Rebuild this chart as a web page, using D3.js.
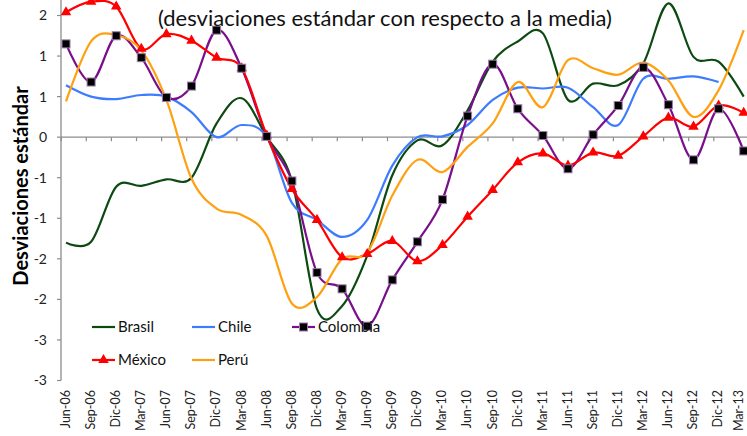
<!DOCTYPE html>
<html><head><meta charset="utf-8">
<script src="https://cdn.jsdelivr.net/npm/d3@7/dist/d3.min.js"></script>
<style>html,body{margin:0;padding:0;background:#fff;}svg{display:block;}</style>
</head><body>
<svg id="chart" width="747" height="436"></svg>
<script>
const categories = ["Jun-06","Sep-06","Dic-06","Mar-07","Jun-07","Sep-07","Dic-07","Mar-08","Jun-08","Sep-08","Dic-08","Mar-09","Jun-09","Sep-09","Dic-09","Mar-10","Jun-10","Sep-10","Dic-10","Mar-11","Jun-11","Sep-11","Dic-11","Mar-12","Jun-12","Sep-12","Dic-12","Mar-13"];
const brasil   = [-1.30,-1.29,-0.61,-0.60,-0.52,-0.50,0.17,0.48,0.00,-0.54,-2.12,-2.08,-1.46,-0.47,-0.04,-0.10,0.33,0.93,1.18,1.28,0.46,0.66,0.64,0.91,1.65,0.99,0.93,0.50];
const chile    = [0.64,0.50,0.47,0.52,0.50,0.31,0.00,0.15,0.00,-0.81,-1.02,-1.23,-1.02,-0.35,0.00,0.01,0.15,0.46,0.61,0.60,0.61,0.37,0.15,0.72,0.72,0.75,0.68,null];
const colombia = [1.15,0.68,1.25,0.98,0.49,0.63,1.32,0.85,0.01,-0.54,-1.67,-1.87,-2.33,-1.76,-1.29,-0.77,0.26,0.90,0.35,0.02,-0.39,0.03,0.39,0.86,0.40,-0.28,0.35,-0.17];
const mexico   = [1.54,1.67,1.61,1.09,1.27,1.19,0.98,0.85,0.02,-0.64,-1.02,-1.48,-1.44,-1.28,-1.53,-1.33,-0.98,-0.65,-0.31,-0.20,-0.35,-0.19,-0.23,0.01,0.24,0.13,0.39,0.30];
const peru     = [0.44,1.18,1.26,1.07,0.46,-0.51,-0.88,-0.96,-1.22,-2.05,-1.97,-1.50,-1.42,-0.72,-0.28,-0.43,-0.12,0.17,0.68,0.37,0.95,0.85,0.77,0.92,0.70,0.25,0.58,1.32];
const yTickValues = [1.5,1,0.5,0,-0.5,-1,-1.5,-2,-2.5,-3];
const yTickLabels = ["2","1","1","0","-1","-1","-2","-2","-3","-3"];
const seriesNames = ["Brasil","Chile","Colombia","México","Perú"];
const title = "(desviaciones estándar con respecto a la media)";
const yTitle = "Desviaciones estándar";

const colors = {Brasil:"#0d4a12", Chile:"#3d7bff", Colombia:"#7a0f8c", "México":"#ff0000", "Perú":"#ffa010"};
const seriesData = {Brasil:brasil, Chile:chile, Colombia:colombia, "México":mexico, "Perú":peru};

const svg = d3.select("#chart");
const FONT = "Lato, 'Open Sans', sans-serif";
const x = d3.scalePoint().domain(categories).range([66, 743.7]);
const y = d3.scaleLinear().domain([-3, 1.5]).range([380.5, 15.5]);
const axisX = 61;
const axisColor = "#8c8c8c";

// Y axis line
svg.append("line").attr("x1", axisX).attr("x2", axisX).attr("y1", 0).attr("y2", y(-3))
  .attr("stroke", axisColor).attr("stroke-width", 1.3);
// Y ticks
const yt = svg.append("g");
yTickValues.forEach((v, i) => {
  yt.append("line").attr("x1", axisX - 4).attr("x2", axisX).attr("y1", y(v)).attr("y2", y(v))
    .attr("stroke", axisColor).attr("stroke-width", 1.2);
  yt.append("text").attr("x", 47).attr("y", y(v)).attr("dy", "0.35em").attr("text-anchor", "end")
    .attr("font-family", FONT).attr("font-size", 14).attr("fill", "#222").text(yTickLabels[i]);
});

// X axis line at zero
svg.append("line").attr("x1", axisX).attr("x2", 747).attr("y1", y(0)).attr("y2", y(0))
  .attr("stroke", axisColor).attr("stroke-width", 1.3);
const xt = svg.append("g");
categories.forEach(c => {
  const tx = x(c) - 4.8;
  xt.append("line").attr("x1", tx).attr("x2", tx).attr("y1", y(0)).attr("y2", y(0) + 4)
    .attr("stroke", axisColor).attr("stroke-width", 1.2);
  xt.append("text").attr("transform", `translate(${Math.min(x(c) - 0.5, 739)},390) rotate(-90)`)
    .attr("text-anchor", "end").attr("dy", "0.35em")
    .attr("font-family", FONT).attr("font-size", 12.5).attr("fill", "#222").text(c);
});

// Lines
const line = d3.line().x(d => x(d.c)).y(d => y(d.v)).curve(d3.curveCardinal.tension(0));
seriesNames.forEach(name => {
  const pts = categories.map((c, i) => ({c, v: seriesData[name][i]})).filter(d => d.v !== null);
  svg.append("path").datum(pts).attr("d", line)
    .attr("fill", "none").attr("stroke", colors[name]).attr("stroke-width", 2.2);
});
// Markers: México triangles
const tri = d3.symbol().type(d3.symbolTriangle).size(48);
svg.append("g").selectAll("path").data(categories.map((c, i) => ({c, v: mexico[i]})))
  .join("path").attr("d", tri).attr("transform", d => `translate(${x(d.c)},${y(d.v)})`)
  .attr("fill", colors["México"]);
// Colombia squares
svg.append("g").selectAll("rect").data(categories.map((c, i) => ({c, v: colombia[i]})))
  .join("rect").attr("x", d => x(d.c) - 4).attr("y", d => y(d.v) - 4).attr("width", 8).attr("height", 8)
  .attr("fill", "#000").attr("stroke", "#9a7aa8").attr("stroke-width", 1);

// Title
svg.append("text").attr("x", 385).attr("y", 18).attr("dy", "0.35em").attr("text-anchor", "middle")
  .attr("font-family", FONT).attr("font-size", 22).attr("fill", "#111").text(title);
// Y title
svg.append("text").attr("transform", "translate(21,186) rotate(-90)").attr("text-anchor", "middle")
  .attr("dy", "0.35em").attr("font-family", FONT).attr("font-size", 20).attr("font-weight", "bold")
  .attr("fill", "#000").text(yTitle);

// Legend
const legendPos = [[92,327],[192,327],[292,327],[92,360],[192,360]];
seriesNames.forEach((name, i) => {
  const [lx, ly] = legendPos[i];
  const g = svg.append("g");
  g.append("line").attr("x1", lx).attr("x2", lx + 23).attr("y1", ly).attr("y2", ly)
    .attr("stroke", colors[name]).attr("stroke-width", 2.2);
  if (name === "Colombia") {
    g.append("rect").attr("x", lx + 7.5).attr("y", ly - 4).attr("width", 8).attr("height", 8)
      .attr("fill", "#000").attr("stroke", "#9a7aa8").attr("stroke-width", 1);
  }
  if (name === "México") {
    g.append("path").attr("d", tri).attr("transform", `translate(${lx + 11.5},${ly})`).attr("fill", colors[name]);
  }
  g.append("text").attr("x", lx + 26).attr("y", ly).attr("dy", "0.35em")
    .attr("font-family", FONT).attr("font-size", 15).attr("fill", "#111").text(name);
});
</script>
</body></html>
